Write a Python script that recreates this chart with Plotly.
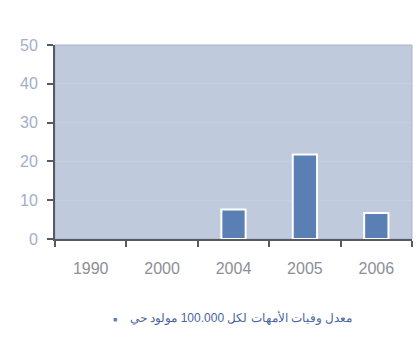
import plotly.graph_objects as go

# Maternal mortality rate per 100,000 live births
years = ["1990", "2000", "2004", "2005", "2006"]
rates = [None, None, 7.6, 21.8, 6.7]
y_ticks = [0, 10, 20, 30, 40, 50]
legend_label = "معدل وفيات الأمهات لكل 100.000 مولود حي"

bar_color = "#5a7fb5"
plot_bg = "#bfcadc"

fig = go.Figure()
fig.add_trace(go.Bar(
    x=years,
    y=rates,
    marker=dict(color=bar_color, line=dict(color="white", width=2)),
    width=0.34,
    showlegend=False,
))

fig.update_layout(
    width=419,
    height=348,
    margin=dict(l=55, r=7, t=45, b=109),
    paper_bgcolor="white",
    plot_bgcolor=plot_bg,
    font=dict(family="Liberation Sans, Arial, sans-serif"),
    xaxis=dict(
        type="category",
        tickson="boundaries",
        ticks="outside",
        ticklen=6,
        tickwidth=2,
        tickcolor="#555a63",
        showline=True,
        linecolor="#555a63",
        linewidth=2,
        showgrid=False,
        ticklabelstandoff=14,
        tickfont=dict(size=16, color="#8c8f96"),
    ),
    yaxis=dict(
        range=[0, 50],
        tickvals=y_ticks,
        ticks="outside",
        ticklen=6,
        tickwidth=2,
        tickcolor="#555a63",
        showline=True,
        linecolor="#555a63",
        linewidth=2,
        gridcolor="#c4cedd",
        gridwidth=1,
        zeroline=False,
        ticklabelstandoff=6,
        tickfont=dict(size=16, color="#a3aec6"),
    ),
    shapes=[dict(
        type="rect", xref="paper", yref="paper",
        x0=0, x1=1, y0=0, y1=1,
        line=dict(color="#a9b4c7", width=1),
        layer="below",
    )],
    annotations=[
        dict(
            text=legend_label, xref="paper", yref="paper",
            x=0.8375, y=-0.405, xanchor="right", yanchor="middle",
            showarrow=False,
            font=dict(size=12, color="#4a64a0"),
        ),
        dict(
            text="■", xref="paper", yref="paper",
            x=0.168, y=-0.415, xanchor="center", yanchor="middle",
            showarrow=False,
            font=dict(size=7, color=bar_color),
        ),
    ],
)

fig.write_html("out.html")
